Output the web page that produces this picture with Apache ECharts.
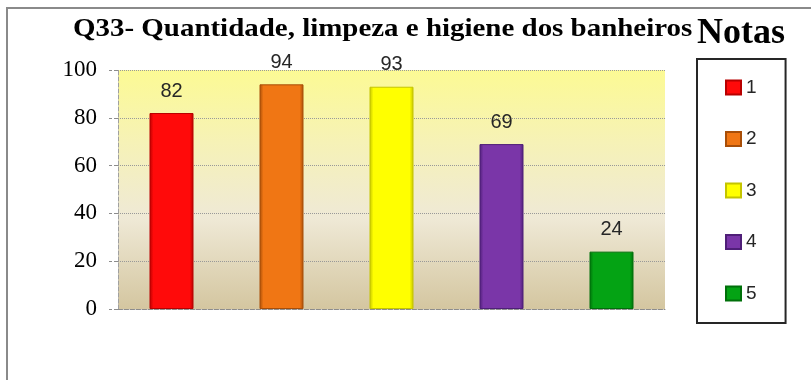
<!DOCTYPE html>
<html>
<head>
<meta charset="utf-8">
<script src="https://cdn.jsdelivr.net/npm/echarts@6/dist/echarts.min.js"></script>
<style>
  html, body { margin: 0; padding: 0; background: #ffffff; }
  #chart { width: 811px; height: 380px; }
</style>
</head>
<body>
<div id="chart"></div>
<script>
// Survey question 33: count of answers per grade (Notas 1..5)
const categories = [''];
const seriesNames = ['1', '2', '3', '4', '5'];
const seriesValues = [82, 94, 93, 69, 24];
const yTicks = [0, 20, 40, 60, 80, 100];

// Main fill and darker edge per grade
const fillColors = ['#ff0a0a', '#f07614', '#ffff00', '#7a36a8', '#04a314'];
const edgeColors = ['#b80000', '#a84e08', '#c4c400', '#4f1f78', '#00700a'];

function bevel(fill, edge) {
  return {
    type: 'linear', x: 0, y: 0, x2: 1, y2: 0,
    colorStops: [
      { offset: 0, color: edge },
      { offset: 0.09, color: fill },
      { offset: 0.91, color: fill },
      { offset: 1, color: edge }
    ]
  };
}

const series = seriesNames.map((name, i) => ({
  name: name,
  type: 'bar',
  data: [seriesValues[i]],
  barWidth: 44,
  barGap: '150%',
  itemStyle: {
    color: bevel(fillColors[i], edgeColors[i]),
    borderColor: edgeColors[i],
    borderWidth: 1
  },
  label: {
    show: true,
    position: 'top',
    distance: 12,
    color: '#262626',
    fontFamily: 'Liberation Sans',
    fontSize: 20
  }
}));

const chart = echarts.init(document.getElementById('chart'), null, { renderer: 'canvas' });

chart.setOption({
  animation: false,
  backgroundColor: '#ffffff',
  graphic: [
    {
      type: 'rect',
      shape: { x: 7, y: 8, width: 900, height: 500 },
      style: { fill: 'none', stroke: '#8a8a8a', lineWidth: 2 },
      silent: true
    },
    {
      type: 'text',
      x: 73, y: 29,
      scaleX: 1.113,
      style: {
        text: 'Q33- Quantidade, limpeza e higiene dos banheiros',
        font: 'bold 26px "Liberation Serif", "Times New Roman", serif',
        fill: '#000000',
        verticalAlign: 'middle'
      }
    },
    {
      type: 'text',
      x: 697, y: 34,
      style: {
        text: 'Notas',
        font: 'bold 36px "Liberation Serif", "Times New Roman", serif',
        fill: '#000000',
        verticalAlign: 'middle'
      }
    }
  ],
  legend: {
    orient: 'vertical',
    left: 697,
    top: 59,
    padding: [19, 29, 20, 28],
    itemWidth: 15,
    itemHeight: 14,
    itemGap: 32.5,
    borderColor: '#262626',
    borderWidth: 2,
    icon: 'rect',
    data: seriesNames,
    textStyle: {
      fontFamily: 'Liberation Sans',
      fontSize: 19,
      color: '#262626'
    }
  },
  grid: {
    left: 118,
    right: 146,
    top: 70,
    bottom: 71,
    show: true,
    borderWidth: 0,
    backgroundColor: {
      type: 'linear', x: 0, y: 0, x2: 0, y2: 1,
      colorStops: [
        { offset: 0, color: '#fcfa94' },
        { offset: 0.3, color: '#f6f2b6' },
        { offset: 0.62, color: '#efe9d6' },
        { offset: 1, color: '#d4c6a0' }
      ]
    }
  },
  xAxis: {
    type: 'category',
    data: categories,
    axisTick: { show: false },
    axisLabel: { show: false },
    axisLine: { show: true, lineStyle: { color: '#8c8c8c', type: 'dashed', width: 1 } }
  },
  yAxis: {
    type: 'value',
    min: yTicks[0],
    max: yTicks[yTicks.length - 1],
    interval: yTicks[1] - yTicks[0],
    axisLine: { show: true, lineStyle: { color: '#a0a0a0', type: 'dashed', width: 1 } },
    axisTick: { show: true, length: 9, lineStyle: { color: '#8c8c8c', type: 'dashed' } },
    axisLabel: {
      margin: 21,
      color: '#000000',
      fontFamily: 'Liberation Serif',
      fontSize: 23
    },
    splitLine: { show: true, lineStyle: { color: '#999999', type: 'dotted', width: 1 } }
  },
  series: series
});
</script>
</body>
</html>
